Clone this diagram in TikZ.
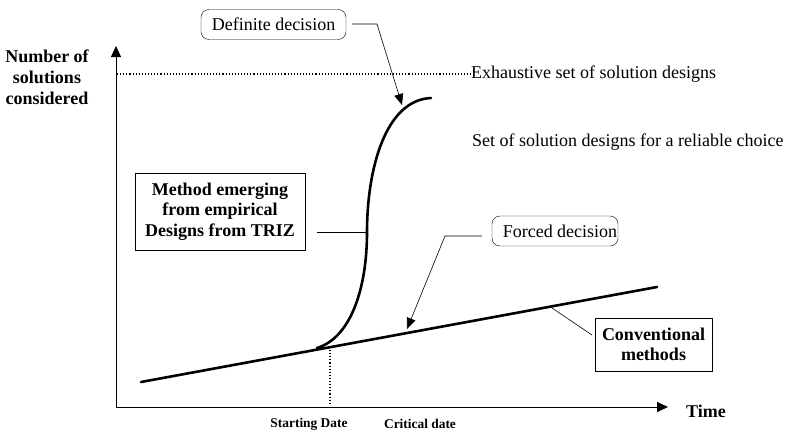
\documentclass[tikz,border=0pt]{standalone}
\usepackage{fontspec}
\setmainfont{Liberation Serif}
\usetikzlibrary{arrows.meta}
\begin{document}
\begin{tikzpicture}[x=1pt,y=-1pt,
  lbl/.style={font=\fontsize{18}{21}\selectfont, inner sep=0pt},
  blbl/.style={font=\bfseries\fontsize{18}{21}\selectfont, align=center, inner sep=0pt},
  datelbl/.style={font=\bfseries\fontsize{13.4}{15}\selectfont, inner sep=0pt},
  roundbox/.style={draw, rounded corners=8pt, font=\fontsize{18}{21}\selectfont, minimum height=30pt, inner xsep=0pt},
  squarebox/.style={draw, font=\bfseries\fontsize{18}{20.5}\selectfont, align=center, inner sep=0pt},
  axis/.style={line width=0.8pt, -{Triangle[length=11pt,width=10pt]}},
  heavy/.style={line width=2.6pt, line cap=round},
  leader/.style={line width=0.6pt},
  pointer/.style={line width=0.6pt, -{Triangle[length=11pt,width=9pt]}},
  guide/.style={dotted, line width=1.1pt}
]
\useasboundingbox (0,0) rectangle (789,434);

% axes
\coordinate (O) at (116,407);
\coordinate (ytip) at (116,46);
\coordinate (xtip) at (668,407);
\draw[axis] (O) -- (ytip);
\draw[axis] (O) -- (xtip);

\node[blbl] (ylab) at (47,77) {Number of\\solutions\\considered};
\node[blbl, anchor=west] (tlab) at (686,411) {Time};

% upper bound of the solution space
\node[lbl, anchor=west] (exh) at (471,74) {Exhaustive set of solution designs};
\coordinate (exhstart) at (117,74);
\draw[guide] (exhstart) -- (exh.west);
\node[lbl, anchor=west] (rel) at (472,142) {Set of solution designs for a reliable choice};

% conventional methods: slow linear growth
\coordinate (c0) at (141,382);
\coordinate (c1) at (657,287);
\draw[heavy] (c0) -- (c1);

% TRIZ-based method: S-curve
\coordinate (s0) at (317,348);
\coordinate (smid) at (367,232);
\coordinate (s1) at (431,98);
\draw[heavy] (s0) .. controls (350,338) and (367,290) .. (smid)
  .. controls (367,170) and (385,100) .. (s1);

% starting date marker
\coordinate (sd) at (330,350);
\coordinate (sdb) at (330,404);
\draw[guide] (sd) -- (sdb);
\node[datelbl] (start) at (309,424) {Starting Date};
\node[datelbl] (crit) at (420,424) {Critical date};

% definite decision
\node[roundbox, minimum width=145pt] (def) at (273.5,24.5) {Definite decision};
\coordinate (defs) at (352,24);
\coordinate (defk) at (377,24);
\coordinate (deftip) at (402,105);
\draw[pointer] (defs) -- (defk) -- (deftip);

% forced decision
\node[roundbox, minimum width=126pt] (forced) at (555,231) {\hspace*{10pt}Forced decision};
\coordinate (fs) at (482,236);
\coordinate (fk) at (445,236);
\coordinate (ftip) at (407,329);
\draw[pointer] (fs) -- (fk) -- (ftip);

% method box
\node[squarebox, minimum width=170pt, minimum height=77pt] (meth) at (220,211.5) {Method emerging\\from empirical\\Designs from TRIZ};
\coordinate (ms) at (317,232);
\draw[leader] (ms) -- (smid);

% conventional methods box
\node[squarebox, minimum width=117pt, minimum height=53pt] (conv) at (653.5,344.5) {Conventional\\methods};
\coordinate (cs) at (592,335);
\coordinate (ck) at (552,308);
\draw[leader] (cs) -- (ck);
\end{tikzpicture}
\end{document}
